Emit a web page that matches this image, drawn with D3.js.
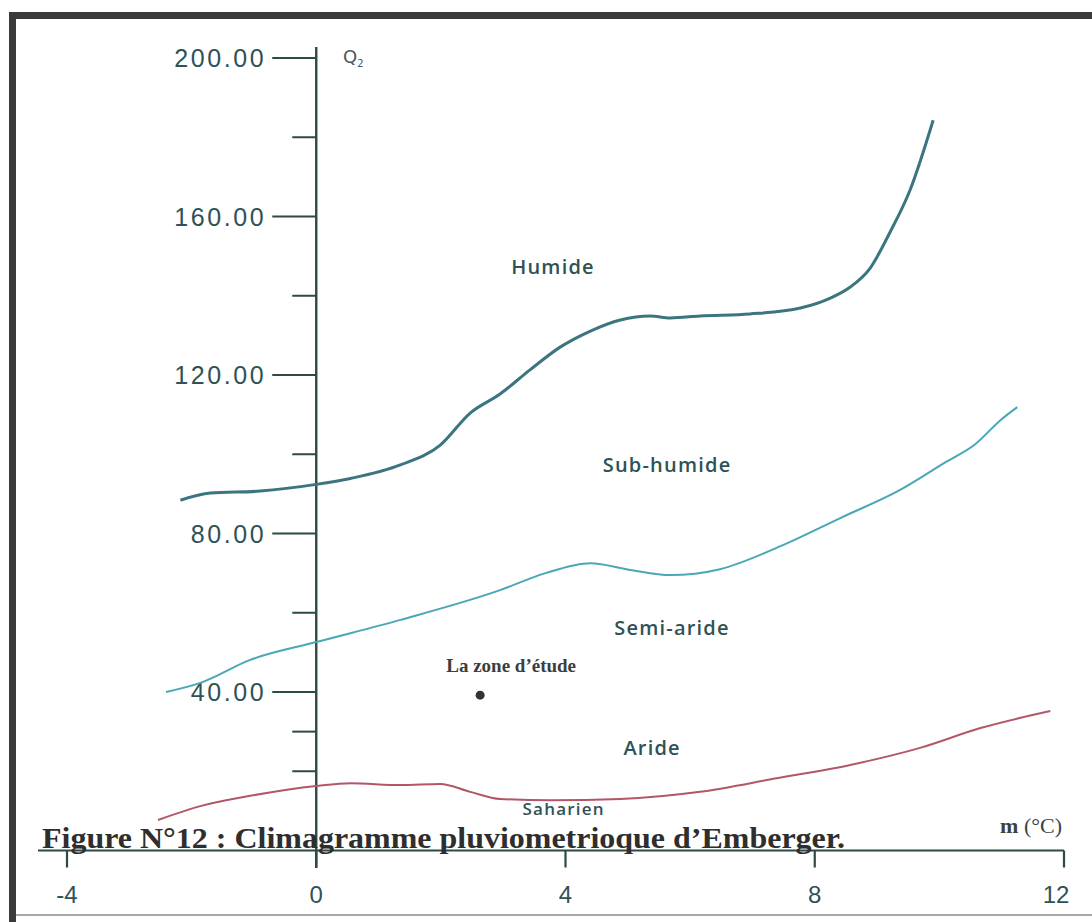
<!DOCTYPE html>
<html>
<head>
<meta charset="utf-8">
<script src="https://cdn.jsdelivr.net/npm/d3@7"></script>
<style>
  body { margin: 0; background: #fff; }
  svg { display: block; }
</style>
</head>
<body>
<div id="chart"></div>
<script>
// m (°C) / Q2 boundary curves
var humideM  = [-2.18, -1.70, -0.90, 0, 0.55, 1.35, 1.99, 2.47, 2.95, 3.43, 3.92, 4.40, 4.88, 5.36, 5.68, 6.16, 6.96, 7.77, 8.25, 8.57, 8.89, 9.21, 9.53, 9.90];
var humideQ  = [88.4, 90.2, 90.7, 92.4, 93.9, 97.3, 102.3, 110.4, 115.2, 121.3, 127.1, 131.1, 133.9, 134.9, 134.4, 134.9, 135.4, 136.9, 139.4, 142.2, 147.0, 156.1, 166.7, 184.3];

var subM = [-2.41, -1.86, -1.06, 0, 1.35, 2.95, 3.68, 4.40, 5.04, 5.68, 6.48, 7.45, 8.41, 9.37, 10.10, 10.58, 10.98, 11.25];
var subQ = [40.0, 42.3, 48.1, 52.6, 58.2, 65.7, 70.0, 72.5, 70.8, 69.5, 71.0, 76.8, 83.9, 91.0, 98.0, 102.6, 108.6, 111.9];

var arideM = [-2.54, -1.86, -1.06, 0, 0.55, 1.35, 1.99, 2.47, 2.95, 3.76, 4.88, 6.16, 7.41, 8.57, 9.69, 10.66, 11.78];
var arideQ = [7.7, 11.2, 13.8, 16.3, 17.0, 16.5, 16.8, 14.8, 13.0, 12.7, 13.0, 14.8, 18.3, 21.6, 25.9, 30.9, 35.2];

var xTicks = [-4, 0, 4, 8, 12];
var yTicks = [40, 80, 120, 160, 200];
var yMinor = [20, 30, 60, 100, 140, 180];

// zone names, anchored in data units
var zoneNames = ["Humide", "Sub-humide", "Semi-aride", "Aride", "Saharien"];
var zoneM = [3.80, 5.63, 5.71, 5.39, 3.97];
var zoneQ = [145.4, 95.5, 54.3, 24.0, 9.0];

var studyName = "La zone d\u2019étude";
var studyM = 2.63, studyQ = 39.2;

var width = 1092, height = 922;

var svg = d3.select("#chart").append("svg")
    .attr("width", width)
    .attr("height", height);

var x = d3.scaleLinear().domain([-4, 12]).range([67, 1064]);
var y = d3.scaleLinear().domain([0, 200]).range([850.5, 58]);

// page frame (scan edges)
svg.append("line").attr("x1", 12.5).attr("x2", 12.5).attr("y1", 12).attr("y2", 922)
    .attr("stroke", "#3b3b3b").attr("stroke-width", 7);
svg.append("line").attr("x1", 9).attr("x2", 1092).attr("y1", 15.5).attr("y2", 15.5)
    .attr("stroke", "#3b3b3b").attr("stroke-width", 7);
svg.append("line").attr("x1", 16).attr("x2", 1092).attr("y1", 915).attr("y2", 915)
    .attr("stroke", "#a8a8a8").attr("stroke-width", 2);

var axisCol = "#2c4a46";
var textCol = "#2f5256";

// x axis
svg.append("line").attr("x1", 38).attr("x2", x(12)).attr("y1", y(0)).attr("y2", y(0))
    .attr("stroke", axisCol).attr("stroke-width", 2.2);
svg.selectAll(".xt").data(xTicks).enter().append("line")
    .attr("x1", function(d){ return x(d); }).attr("x2", function(d){ return x(d); })
    .attr("y1", y(0)).attr("y2", y(0) + 17)
    .attr("stroke", axisCol).attr("stroke-width", 2.2);
svg.selectAll(".xl").data(xTicks).enter().append("text")
    .attr("x", function(d){ return x(d) + (d === 12 ? -8 : 0); })
    .attr("y", 903)
    .attr("text-anchor", "middle")
    .attr("font-family", "Liberation Sans, Arial, sans-serif")
    .attr("font-size", 24)
    .attr("fill", textCol)
    .text(function(d){ return d; });

// y axis
svg.append("line").attr("x1", x(0)).attr("x2", x(0)).attr("y1", 47).attr("y2", 868)
    .attr("stroke", axisCol).attr("stroke-width", 2.4);
svg.selectAll(".yt").data(yTicks).enter().append("line")
    .attr("x1", x(0) - 44).attr("x2", x(0))
    .attr("y1", function(d){ return y(d); }).attr("y2", function(d){ return y(d); })
    .attr("stroke", axisCol).attr("stroke-width", 2.2);
svg.selectAll(".ym").data(yMinor).enter().append("line")
    .attr("x1", x(0) - 24).attr("x2", x(0))
    .attr("y1", function(d){ return y(d); }).attr("y2", function(d){ return y(d); })
    .attr("stroke", axisCol).attr("stroke-width", 2);
svg.selectAll(".yl").data(yTicks).enter().append("text")
    .attr("x", x(0) - 50)
    .attr("y", function(d){ return y(d) + 9; })
    .attr("text-anchor", "end")
    .attr("font-family", "Liberation Sans, Arial, sans-serif")
    .attr("font-size", 25)
    .attr("letter-spacing", 2.6)
    .attr("fill", textCol)
    .text(function(d){ return d.toFixed(2); });

// Q2 label
var q2 = svg.append("text")
    .attr("x", 343).attr("y", 63)
    .attr("font-family", "DejaVu Sans, sans-serif")
    .attr("font-size", 18)
    .attr("fill", "#4a5a5a");
q2.append("tspan").text("Q");
q2.append("tspan").attr("font-size", 10).attr("dy", 4).text("2");

// boundary curves
var line = d3.line()
    .x(function(d){ return x(d[0]); })
    .y(function(d){ return y(d[1]); })
    .curve(d3.curveMonotoneX);

var curves = [
  { m: humideM, q: humideQ, color: "#3c7480", w: 3 },
  { m: subM,    q: subQ,    color: "#4aa7b6", w: 2 },
  { m: arideM,  q: arideQ,  color: "#b25767", w: 2 }
];
curves.forEach(function(c) {
  svg.append("path")
      .datum(d3.zip(c.m, c.q))
      .attr("d", line)
      .attr("fill", "none")
      .attr("stroke", c.color)
      .attr("stroke-width", c.w);
});

// zone names
svg.selectAll(".zone").data(zoneNames).enter().append("text")
    .attr("x", function(d, i){ return x(zoneM[i]); })
    .attr("y", function(d, i){ return y(zoneQ[i]); })
    .attr("text-anchor", "middle")
    .attr("font-family", "Open Sans, sans-serif")
    .attr("font-size", function(d, i){ return i === 4 ? 17 : 20; })
    .attr("font-weight", 600)
    .attr("letter-spacing", 1.2)
    .attr("fill", textCol)
    .text(function(d){ return d; });

// study zone point
svg.append("circle")
    .attr("cx", x(studyM)).attr("cy", y(studyQ)).attr("r", 4.5)
    .attr("fill", "#333");
svg.append("text")
    .attr("x", x(studyM) + 31).attr("y", y(studyQ) - 23)
    .attr("text-anchor", "middle")
    .attr("font-family", "Liberation Serif, Times New Roman, serif")
    .attr("font-weight", "bold")
    .attr("font-size", 19)
    .attr("fill", "#3a4040")
    .text(studyName);

// x axis title
var mt = svg.append("text")
    .attr("x", 1062).attr("y", 833)
    .attr("text-anchor", "end")
    .attr("font-family", "Liberation Serif, serif")
    .attr("font-size", 22)
    .attr("fill", "#3a4444");
mt.append("tspan").attr("font-weight", "bold").text("m ");
mt.append("tspan").text("(°C)");

// figure caption (sits on the axis, as in the scan)
svg.append("text")
    .attr("x", 42).attr("y", 848)
    .attr("font-family", "Liberation Serif, Times New Roman, serif")
    .attr("font-weight", "bold")
    .attr("font-size", 30)
    .attr("textLength", 803)
    .attr("lengthAdjust", "spacingAndGlyphs")
    .attr("fill", "#2e2e2e")
    .text("Figure N°12 : Climagramme pluviometrioque d\u2019Emberger.");
</script>
</body>
</html>
